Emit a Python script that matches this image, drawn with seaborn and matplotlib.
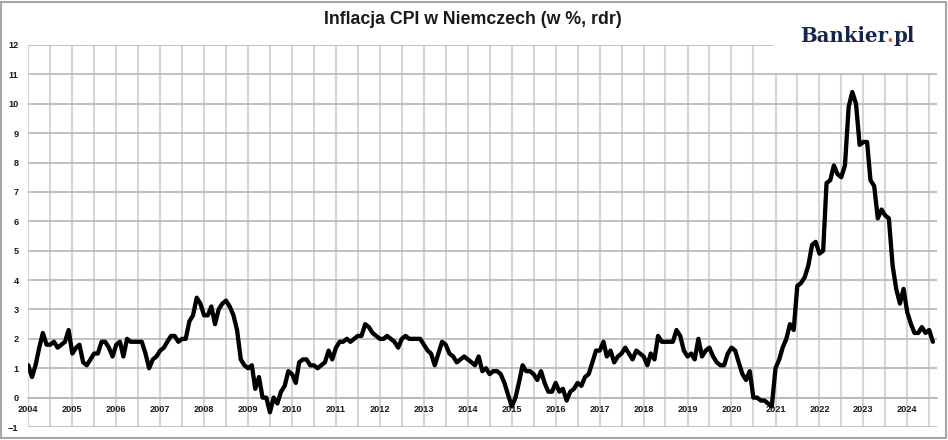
import numpy as np
import pandas as pd
import matplotlib
matplotlib.use("Agg")
import matplotlib.pyplot as plt
import matplotlib.dates as mdates
from matplotlib.patches import Rectangle
import seaborn as sns

# ---- data: CPI inflation in Germany, % y/y, monthly ----
y2004 = [1.1, 0.7, 1.1, 1.7, 2.2, 1.8, 1.8, 1.9, 1.7, 1.8, 1.9, 2.3]
y2005 = [1.5, 1.7, 1.8, 1.2, 1.1, 1.3, 1.5, 1.5, 1.9, 1.9, 1.7, 1.4]
y2006 = [1.8, 1.9, 1.4, 2.0, 1.9, 1.9, 1.9, 1.9, 1.5, 1.0, 1.3, 1.4]
y2007 = [1.6, 1.7, 1.9, 2.1, 2.1, 1.9, 2.0, 2.0, 2.6, 2.8, 3.4, 3.2]
y2008 = [2.8, 2.8, 3.1, 2.5, 3.0, 3.2, 3.3, 3.1, 2.8, 2.3, 1.3, 1.1]
y2009 = [1.0, 1.1, 0.3, 0.7, 0.0, 0.0, -0.5, 0.0, -0.2, 0.2, 0.4, 0.9]
y2010 = [0.8, 0.5, 1.2, 1.3, 1.3, 1.1, 1.1, 1.0, 1.1, 1.2, 1.6, 1.3]
y2011 = [1.7, 1.9, 1.9, 2.0, 1.9, 2.0, 2.1, 2.1, 2.5, 2.4, 2.2, 2.1]
y2012 = [2.0, 2.0, 2.1, 2.0, 1.9, 1.7, 2.0, 2.1, 2.0, 2.0, 2.0, 2.0]
y2013 = [1.8, 1.6, 1.5, 1.1, 1.5, 1.9, 1.8, 1.5, 1.4, 1.2, 1.3, 1.4]
y2014 = [1.3, 1.2, 1.1, 1.4, 0.9, 1.0, 0.8, 0.9, 0.9, 0.8, 0.5, 0.1]
y2015 = [-0.3, 0.0, 0.5, 1.1, 0.9, 0.9, 0.8, 0.6, 0.9, 0.5, 0.2, 0.2]
y2016 = [0.5, 0.2, 0.3, -0.1, 0.2, 0.3, 0.5, 0.4, 0.7, 0.8, 1.2, 1.6]
y2017 = [1.6, 1.9, 1.4, 1.6, 1.2, 1.4, 1.5, 1.7, 1.5, 1.3, 1.6, 1.5]
y2018 = [1.4, 1.1, 1.5, 1.3, 2.1, 1.9, 1.9, 1.9, 1.9, 2.3, 2.1, 1.6]
y2019 = [1.4, 1.5, 1.3, 2.0, 1.4, 1.6, 1.7, 1.4, 1.2, 1.1, 1.1, 1.5]
y2020 = [1.7, 1.6, 1.2, 0.8, 0.6, 0.9, 0.0, 0.0, -0.1, -0.1, -0.2, -0.3]
y2021 = [1.0, 1.3, 1.7, 2.0, 2.5, 2.3, 3.8, 3.9, 4.1, 4.5, 5.2, 5.3]
y2022 = [4.9, 5.0, 7.3, 7.4, 7.9, 7.6, 7.5, 7.9, 9.9, 10.4, 10.0, 8.6]
y2023 = [8.7, 8.7, 7.4, 7.2, 6.1, 6.4, 6.2, 6.1, 4.5, 3.7, 3.2, 3.7]
y2024 = [2.9, 2.5, 2.2, 2.2, 2.4, 2.2, 2.3, 1.9]

start_month = "2004-01-01"
y_ticks = list(range(-1, 13))
title = "Inflacja CPI w Niemczech (w %, rdr)"

values = (y2004 + y2005 + y2006 + y2007 + y2008 + y2009 + y2010 + y2011 + y2012
          + y2013 + y2014 + y2015 + y2016 + y2017 + y2018 + y2019 + y2020
          + y2021 + y2022 + y2023 + y2024)
dates = pd.date_range(start_month, periods=len(values), freq="MS")
df = pd.DataFrame({"date": dates, "cpi": values})

# ---- figure ----
sns.set_style("white")
plt.rcParams["font.family"] = ["Liberation Sans", "DejaVu Sans"]

W, H = 948, 440
fig = plt.figure(figsize=(W / 100, H / 100), dpi=100)
fig.patch.set_facecolor("white")

left_px, right_px, top_px, bottom_px = 28.3, 937, 45, 427
ax = fig.add_axes([left_px / W, (H - bottom_px) / H,
                   (right_px - left_px) / W, (bottom_px - top_px) / H])

sns.lineplot(data=df, x="date", y="cpi", ax=ax, color="black", linewidth=3.1,
             zorder=5)

ax.set_ylim(-1, 12)
ax.set_yticks(y_ticks)
x0 = pd.Timestamp(start_month)
x1 = pd.Timestamp("2024-09-04")
ax.set_xlim(x0, x1)

ax.xaxis.set_major_locator(mdates.YearLocator())
ax.xaxis.set_major_formatter(mdates.DateFormatter("%Y"))
ax.xaxis.set_minor_locator(mdates.MonthLocator(bymonth=7))

ax.grid(False)
ax.grid(axis="y", which="major", color="#b8b8b8", linewidth=1.2, zorder=1)
ax.grid(axis="x", which="both", color="#d6d6d6", linewidth=1.5, zorder=1)
ax.set_axisbelow(True)

for s in ["top", "right", "left"]:
    ax.spines[s].set_visible(False)
ax.spines["bottom"].set_position(("data", 0))
ax.spines["bottom"].set_color("#b8b8b8")
ax.spines["bottom"].set_linewidth(1.2)

ax.tick_params(axis="both", which="both", length=0)
ax.tick_params(axis="x", pad=5, labelsize=6.6, labelcolor="#1a1a1a")
ax.tick_params(axis="y", pad=7, labelsize=6.6, labelcolor="#1a1a1a")
for lbl in ax.get_xticklabels() + ax.get_yticklabels():
    lbl.set_fontweight("bold")
ax.set_xlabel("")
ax.set_ylabel("")

# title
fig.text(473 / W, 1 - 20 / H, title, ha="center", va="center",
         fontsize=12.8, fontweight="bold", color="#1a1a1a")

# logo box covering the grid
fig.patches.append(Rectangle((773 / W, 1 - 73 / H), (939 - 773) / W, 71 / H,
                             transform=fig.transFigure, facecolor="white",
                             edgecolor="none", zorder=10))

# logo text: measure, then place three pieces so they join seamlessly
renderer = fig.canvas.get_renderer()
base_y = 1 - 42.5 / H
logo_kw = dict(fontsize=14.2, fontweight="bold", va="baseline",
               family=["DejaVu Serif"], zorder=11)
logo_x = 800 / W
extents = {}
for s in ["Bankier.", "Bankier.pl"]:
    tmp = fig.text(logo_x, base_y, s, ha="left", color="none", **logo_kw)
    extents[s] = tmp.get_window_extent(renderer)
    tmp.remove()
fig.text(logo_x, base_y, "Bankier", ha="left", color="#16254a", **logo_kw)
fig.text(extents["Bankier."].x1 / W, base_y, ".", ha="right",
         color="#ef5a24", **logo_kw)
fig.text(extents["Bankier.pl"].x1 / W, base_y, "pl", ha="right",
         color="#16254a", **logo_kw)

# outer chart border
fig.patches.append(Rectangle((1.0 / W, 2.0 / H), (946 - 1) / W, (438 - 2) / H,
                             transform=fig.transFigure, facecolor="none",
                             edgecolor="#a6a6a6", linewidth=1.5, zorder=13))

fig.savefig("out.png", dpi=100, facecolor="white")
